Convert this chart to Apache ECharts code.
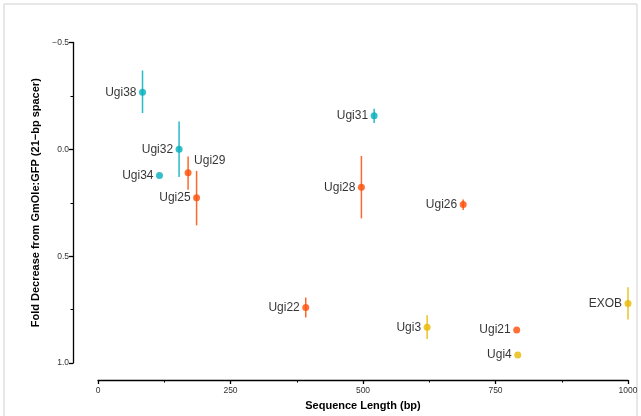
<!DOCTYPE html>
<html>
<head>
<meta charset="utf-8">
<script src="https://cdn.jsdelivr.net/npm/echarts@6/dist/echarts.min.js"></script>
<style>
html,body{margin:0;padding:0;background:#fff;}
#chart{width:641px;height:416px;}
</style>
</head>
<body>
<div id="chart"></div>
<script>
// ---- data ----
const names  = ['Ugi38','Ugi32','Ugi34','Ugi29','Ugi25','Ugi31','Ugi28','Ugi26','Ugi22','Ugi3','Ugi21','Ugi4','EXOB'];
const lengths = [84, 153, 116, 170, 186, 521, 497, 689, 392, 621, 790, 792, 1000];
const fold    = [-0.267, 0.0, 0.123, 0.11, 0.227, -0.157, 0.178, 0.258, 0.74, 0.833, 0.846, 0.962, 0.722];
const lower   = [-0.369, -0.13, 0.123, 0.034, 0.101, -0.19, 0.031, 0.235, 0.694, 0.776, 0.846, 0.962, 0.645];
const upper   = [-0.17, 0.13, 0.123, 0.189, 0.356, -0.123, 0.323, 0.284, 0.787, 0.888, 0.846, 0.962, 0.796];
const groups  = ['A','A','A','B','B','A','B','B','B','C','B','C','C'];
const xTicks = [0, 250, 500, 750, 1000];
const yTicks = [-0.5, 0.0, 0.5, 1.0];

const palette = {A:'#00AFBB', B:'#FC4E07', C:'#E7B800'};
const font = '"Liberation Sans", Arial, sans-serif';

const chart = echarts.init(document.getElementById('chart'));

const pts = names.map((n,i)=>({
  value:[lengths[i], fold[i]],
  name:n,
  itemStyle:{color:palette[groups[i]]},
  label: n==='Ugi29'
    ? {show:true, position:'right', distance:2.5, offset:[0,-12]}
    : {show:true, position:'left', distance:2.5}
}));

const bars = names.map((n,i)=>[lengths[i], lower[i], upper[i], i]);

chart.setOption({
  animation:false,
  backgroundColor:'#fff',
  graphic:[{
    type:'rect', shape:{x:4, y:4, width:633, height:430},
    style:{fill:'none', stroke:'#cfcfcf', lineWidth:1}, silent:true, z:-1
  }],
  grid:{left:98, right:13, top:42.5, bottom:49},
  xAxis:{
    type:'value', min:0, max:1000, interval:250, offset:17,
    name:'Sequence Length (bp)', nameLocation:'middle', nameGap:20,
    nameTextStyle:{fontFamily:font, fontWeight:'bold', fontSize:11, color:'#000'},
    axisLine:{show:true, onZero:false, lineStyle:{color:'#000', width:1.3}},
    axisTick:{show:true, length:4, lineStyle:{color:'#000', width:1.3}},
    minorTick:{show:true, splitNumber:2, length:2.5, lineStyle:{color:'#000', width:1}},
    axisLabel:{fontFamily:font, fontSize:8.5, color:'#333', margin:6,
      formatter:v=>xTicks.includes(v)?String(v):''},
    splitLine:{show:false}
  },
  yAxis:{
    type:'value', inverse:true, min:-0.5, max:1.0, interval:0.5, offset:25,
    name:'Fold Decrease from GmOle:GFP (21\u2212bp spacer)', nameLocation:'middle', nameGap:29,
    nameTextStyle:{fontFamily:font, fontWeight:'bold', fontSize:11, color:'#000'},
    axisLine:{show:true, onZero:false, lineStyle:{color:'#000', width:1.3}},
    axisTick:{show:true, length:4, lineStyle:{color:'#000', width:1.3}},
    minorTick:{show:true, splitNumber:2, length:2.5, lineStyle:{color:'#000', width:1}},
    axisLabel:{fontFamily:font, fontSize:8.5, color:'#333', margin:4,
      formatter:v=>{
        const t = yTicks.find(k=>Math.abs(k-v)<1e-9);
        return t===undefined?'':t.toFixed(1).replace('-','\u2212');
      }},
    splitLine:{show:false}
  },
  series:[
    {
      type:'custom',
      data:bars,
      z:2,
      renderItem:(params, api)=>{
        const x = api.value(0), lo = api.value(1), hi = api.value(2), idx = api.value(3);
        if (lo===hi) return null;
        const p1 = api.coord([x, lo]), p2 = api.coord([x, hi]);
        return {
          type:'line',
          shape:{x1:p1[0], y1:p1[1], x2:p2[0], y2:p2[1]},
          style:{stroke:palette[groups[idx]], lineWidth:1.5, opacity:0.85}
        };
      }
    },
    {
      type:'scatter',
      data:pts,
      symbol:'circle',
      symbolSize:7,
      z:3,
      label:{show:true, formatter:p=>p.name, fontFamily:font, fontSize:12, color:'#000'}
    }
  ]
});
</script>
</body>
</html>
